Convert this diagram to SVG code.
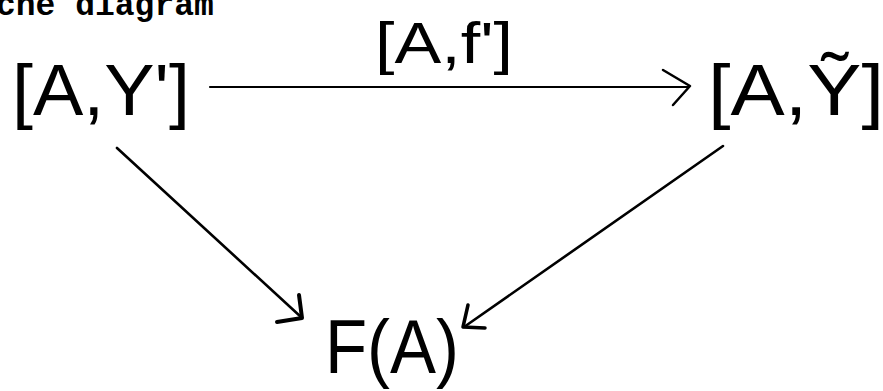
<svg xmlns="http://www.w3.org/2000/svg" width="883" height="391" viewBox="0 0 883 391">
<style>
.hand{font-family:"Liberation Sans","DejaVu Sans",sans-serif;fill:#000}
.title{font-family:"Liberation Mono","Courier New",monospace;font-weight:bold;fill:#000}
.ln{stroke:#000;fill:none;stroke-linecap:round;stroke-linejoin:round}
</style>
<rect width="883" height="391" fill="#fff"/>
<text class="title" x="-4" y="15" font-size="33">che diagram</text>
<g id="node-AY1"><text class="hand" x="12" y="115" font-size="72" textLength="178" lengthAdjust="spacingAndGlyphs">[A,Y']</text></g>
<g id="node-AYt"><text class="hand" x="708" y="115" font-size="72" textLength="176" lengthAdjust="spacingAndGlyphs">[A,Ỹ]</text></g>
<g id="node-FA"><text class="hand" x="325" y="373" font-size="76" textLength="134" lengthAdjust="spacingAndGlyphs">F(A)</text></g>
<g id="connectors">
<line class="ln" x1="210" y1="87" x2="688" y2="87" stroke-width="2.2"/>
<polyline class="ln" points="663,70 690,86 673,105" stroke-width="2.5"/>
<text class="hand" x="375" y="63" font-size="58" textLength="138" lengthAdjust="spacingAndGlyphs">[A,f']</text>
<line class="ln" x1="117" y1="148" x2="301" y2="317" stroke-width="2.6"/>
<polyline class="ln" points="299,295 302,318 277,322" stroke-width="4"/>
<line class="ln" x1="723" y1="146" x2="464" y2="327" stroke-width="2.6"/>
<polyline class="ln" points="468,305 463,327 485,328" stroke-width="3.5"/>
</g>
</svg>
